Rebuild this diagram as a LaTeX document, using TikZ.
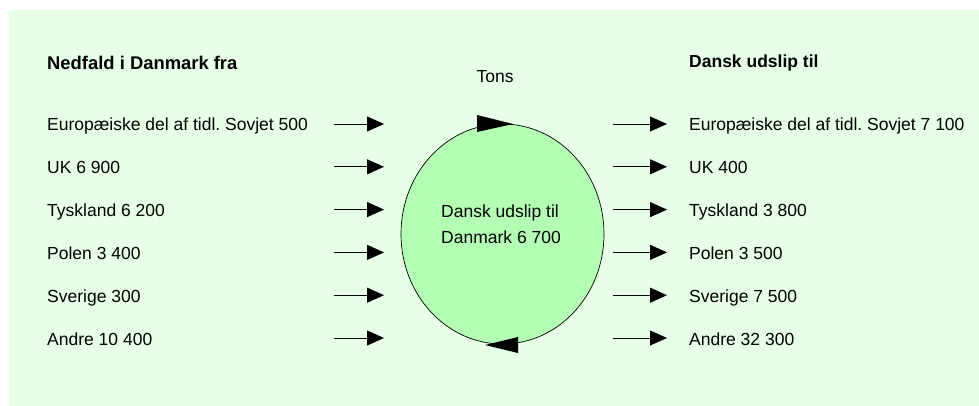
\documentclass[tikz,border=0pt]{standalone}
\usepackage{fontspec}
\setmainfont{Liberation Sans}
\usetikzlibrary{arrows.meta,shapes.geometric}
\definecolor{bgreen}{RGB}{230,255,230}
\definecolor{egreen}{RGB}{179,255,179}
\frenchspacing
\begin{document}
\begin{tikzpicture}[x=1pt,y=-1pt,
  lbl/.style={anchor=base west,inner sep=0pt,font=\fontsize{17.5}{21}\selectfont},
  head/.style={lbl,font=\fontsize{17.5}{21}\selectfont\bfseries},
  flow/.style={line width=0.8pt,-{Triangle[length=17pt,width=15pt]}},
  tri/.style={fill=black}]
\useasboundingbox (0,0) rectangle (979,406);
\fill[bgreen] (9,10) rectangle (979,406);
% headings
\node[head,font=\fontsize{18.4}{22}\selectfont\bfseries] (hl) at (47,69.5) {Nedfald i Danmark fra};
\node[head] (hr) at (689,68) {Dansk udslip til};
\node[lbl,anchor=base] (tons) at (495,83) {Tons};
% ellipse
\node[ellipse,draw=black,line width=0.7pt,fill=egreen,minimum width=203pt,minimum height=220pt,inner sep=0pt] (e) at (502.5,234) {};
\node[lbl] (et1) at (441,217) {Dansk udslip til};
\node[lbl] (et2) at (441,243) {Danmark 6 700};
\fill[tri] (477,115) -- (477,132) -- (513,124) -- cycle;
\fill[tri] (518,337) -- (518,353) -- (485,345) -- cycle;
% rows
\foreach \i/\ltxt/\rtxt in {0/{Europæiske del af tidl. Sovjet 500}/{Europæiske del af tidl. Sovjet 7 100},
  1/{UK 6 900}/{UK 400},
  2/{Tyskland 6 200}/{Tyskland 3 800},
  3/{Polen 3 400}/{Polen 3 500},
  4/{Sverige 300}/{Sverige 7 500},
  5/{Andre 10 400}/{Andre 32 300}}{
  \pgfmathsetmacro{\yy}{124+42.8*\i}
  \node[lbl] (l\i) at (47,\yy+7) {\ltxt};
  \node[lbl] (r\i) at (689,\yy+7) {\rtxt};
  \coordinate (la\i) at (334,\yy);
  \coordinate (lb\i) at (384,\yy);
  \coordinate (ra\i) at (613,\yy);
  \coordinate (rb\i) at (667,\yy);
  \draw[flow] (la\i) -- (lb\i);
  \draw[flow] (ra\i) -- (rb\i);
}
\end{tikzpicture}
\end{document}
